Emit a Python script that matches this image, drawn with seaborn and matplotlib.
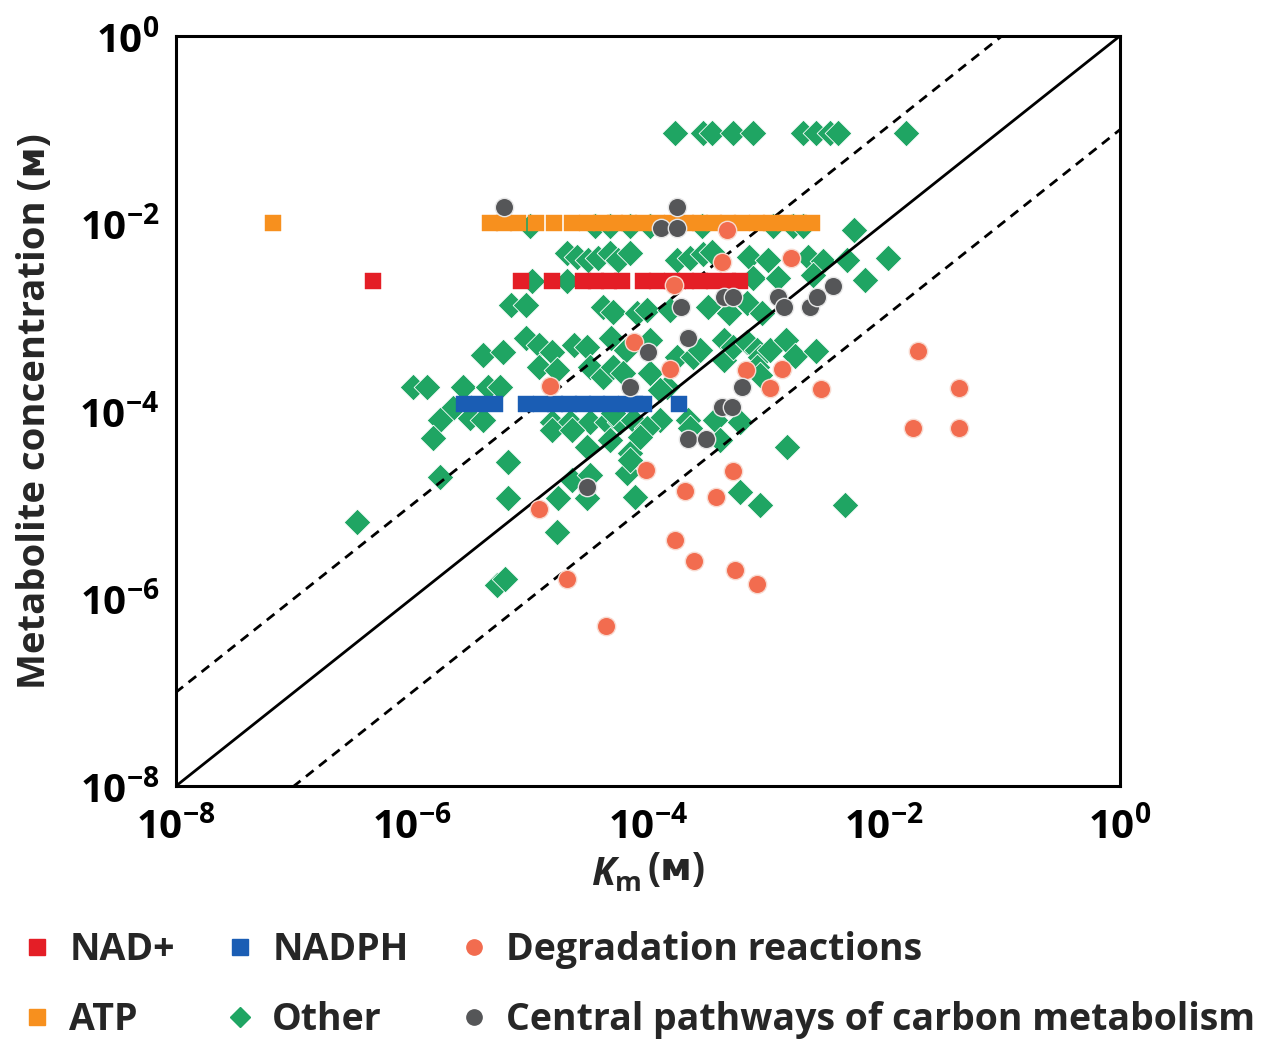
import numpy as np
import pandas as pd
import matplotlib
matplotlib.use("Agg")
import matplotlib.pyplot as plt
from matplotlib.lines import Line2D
import seaborn as sns

# All values are log10 (molar).
# "Other" enzyme/substrate pairs
other_km = [
    -3.77, -3.53, -3.46, -3.28, -3.11, -2.69, -2.58, -2.46, -2.39, -1.81,
    -5.00, -4.45, -4.32, -4.15, -3.98, -3.54, -2.94, -2.77, -2.69, -2.25,
    -4.69, -4.60, -4.51, -4.42, -4.32, -4.25, -4.15, -3.75, -3.64, -3.53, -3.46,
    -3.14, -2.98, -2.64, -2.52, -2.31, -1.97,
    -4.98, -4.69, -3.11, -2.90, -2.60, -2.16,
    -5.16, -5.03, -4.38, -4.30, -4.09, -4.01, -3.81, -3.49, -3.31, -3.16, -3.03,
    -5.40, -5.23, -5.03, -4.92, -4.81, -4.63, -4.52, -4.31, -4.19, -3.98, -3.75,
    -3.62, -3.56, -3.36, -3.36, -3.28, -3.16, -3.08, -3.05, -2.97, -2.83, -2.75, -2.58,
    -4.92, -4.77, -4.49, -4.38, -4.30, -4.21, -3.98, -3.84, -3.08, -3.05, -3.90,
    -5.99, -5.87, -5.57, -5.36, -5.25,
    -5.65, -5.51, -5.40, -5.76, -4.81, -4.66, -4.49, -4.35, -4.24, -4.81, -4.64,
    -4.13, -4.30, -3.90, -4.01, -3.66, -3.64, -3.43, -3.22,
    -5.82, -4.52, -4.32, -4.15, -4.07, -3.39, -2.82,
    -5.19, -5.76, -4.64, -4.49, -4.18, -4.15,
    -5.19, -4.76, -4.52, -4.11, -3.22, -3.05, -2.33,
    -4.77, -5.28, -5.21, -6.47,
]
other_conc = [
    -1.03, -1.03, -1.03, -1.03, -1.03, -1.03, -1.03, -1.03, -1.03, -1.03,
    -2.03, -2.03, -2.03, -2.03, -2.03, -2.03, -2.03, -2.03, -2.03, -2.07,
    -2.31, -2.36, -2.39, -2.37, -2.31, -2.39, -2.32, -2.39, -2.37, -2.33, -2.30,
    -2.36, -2.39, -2.36, -2.40, -2.39, -2.37,
    -2.61, -2.61, -2.58, -2.58, -2.55, -2.60,
    -2.87, -2.87, -2.89, -2.94, -2.95, -2.92, -2.92, -2.89, -2.95, -2.85, -2.95,
    -3.40, -3.37, -3.22, -3.30, -3.37, -3.30, -3.32, -3.22, -3.35, -3.24, -3.42,
    -3.42, -3.35, -3.24, -3.46, -3.32, -3.26, -3.35, -3.42, -3.35, -3.24, -3.41, -3.36,
    -3.53, -3.56, -3.53, -3.64, -3.53, -3.59, -3.59, -3.74, -3.53, -3.62, -3.78,
    -3.74, -3.74, -3.74, -3.74, -3.74,
    -3.97, -4.07, -4.10, -4.10, -4.12, -4.12, -4.12, -4.12, -4.12, -4.20, -4.20,
    -4.10, -4.02, -4.10, -4.18, -4.10, -4.18, -4.10, -4.12,
    -4.29, -4.38, -4.31, -4.45, -4.28, -4.31, -4.38,
    -4.54, -4.70, -4.74, -4.68, -4.66, -4.52,
    -4.93, -4.93, -4.93, -4.92, -4.86, -5.00, -5.00,
    -5.29, -5.86, -5.79, -5.18,
]

# Degradation reactions
degr_km = [-3.33, -3.37, -2.79, -3.78, -4.12, -3.81, -4.83, -3.17, -2.86, -2.97,
           -2.53, -1.71, -1.36, -1.75, -1.36, -4.02, -3.28, -3.69, -3.42, -4.92,
           -3.77, -3.61, -3.26, -3.08, -4.69, -4.36]
degr_conc = [-2.07, -2.41, -2.37, -2.66, -3.26, -3.55, -3.73, -3.56, -3.55, -3.75,
             -3.77, -3.36, -3.75, -4.18, -4.18, -4.63, -4.64, -4.85, -4.92, -5.05,
             -5.38, -5.60, -5.70, -5.85, -5.79, -6.29]

# Central pathways of carbon metabolism
central_km = [-5.22, -3.75, -3.89, -3.75, -3.72, -3.36, -3.28, -2.90, -2.85, -2.63,
              -2.57, -2.43, -3.66, -4.00, -4.15, -3.20, -3.37, -3.29, -3.66, -3.51,
              -4.52]
central_conc = [-1.82, -1.82, -2.05, -2.05, -2.89, -2.78, -2.78, -2.78, -2.89, -2.89,
                -2.78, -2.67, -3.22, -3.37, -3.74, -3.74, -3.96, -3.96, -4.30, -4.30,
                -4.81]

# Cofactors (one fixed concentration each, many enzymes)
atp_conc = -2.0
atp_km = [-7.18, -5.34, -5.22, -5.10, -4.95, -4.80, -4.64, -4.52, -4.40, -4.28,
          -4.16, -4.04, -3.92, -3.80, -3.68, -3.56, -3.44, -3.32, -3.20, -3.08,
          -2.96, -2.84, -2.72, -2.61]
nad_conc = -2.61
nad_km = [-6.33, -5.08, -4.81, -4.55, -4.44, -4.33, -4.22, -4.04, -3.92, -3.80,
          -3.68, -3.56, -3.44, -3.32, -3.22]
nadph_conc = -3.93
nadph_km = [-5.56, -5.43, -5.30, -5.03, -4.91, -4.79, -4.67, -4.55, -4.43, -4.31,
            -4.19, -4.11, -4.03, -3.74]

colors = {
    "NAD+": "#E41E26",
    "ATP": "#F7901E",
    "NADPH": "#1A5DB4",
    "Other": "#1FA563",
    "Degradation reactions": "#F26C4F",
    "Central pathways of carbon metabolism": "#555658",
}


def frame(km, conc):
    km = np.asarray(km, dtype=float)
    conc = np.broadcast_to(np.asarray(conc, dtype=float), km.shape)
    return pd.DataFrame({"km": 10.0 ** km, "conc": 10.0 ** conc})


sns.set_theme(style="white")
plt.rcParams["font.family"] = ["Open Sans", "DejaVu Sans"]
plt.rcParams["font.weight"] = "bold"
plt.rcParams["mathtext.fontset"] = "custom"
plt.rcParams["mathtext.bf"] = "Open Sans:bold"
plt.rcParams["mathtext.it"] = "Open Sans:bold:italic"
plt.rcParams["mathtext.rm"] = "Open Sans:bold"

fig = plt.figure(figsize=(12.82, 10.42), dpi=100)
ax = fig.add_axes([0.1373, 0.2457, 0.7363, 0.7198])
ax.set_xscale("log")
ax.set_yscale("log")
ax.set_xlim(1e-8, 1)
ax.set_ylim(1e-8, 1)

# reference lines: [S] = Km and one decade either side
ref = np.array([1e-9, 10.0])
ax.plot(ref, ref, color="black", lw=2.0, zorder=3)
ax.plot(ref, ref * 10, color="black", lw=2.0, ls=(0, (3.5, 2.5)), zorder=3)
ax.plot(ref, ref / 10, color="black", lw=2.0, ls=(0, (3.5, 2.5)), zorder=3)

sns.scatterplot(data=frame(other_km, other_conc), x="km", y="conc", ax=ax,
                marker="D", s=185, color=colors["Other"], edgecolor="white",
                linewidth=0.6, zorder=2, legend=False)
for name, km, conc in [("ATP", atp_km, atp_conc), ("NAD+", nad_km, nad_conc),
                       ("NADPH", nadph_km, nadph_conc)]:
    sns.scatterplot(data=frame(km, conc), x="km", y="conc", ax=ax, marker="s",
                    s=135, color=colors[name], edgecolor=colors[name],
                    linewidth=0.3, zorder=4, legend=False)
sns.scatterplot(data=frame(degr_km, degr_conc), x="km", y="conc", ax=ax,
                marker="o", s=175, color=colors["Degradation reactions"],
                edgecolor="#F8D9CF", linewidth=1.0, zorder=5, legend=False)
sns.scatterplot(data=frame(central_km, central_conc), x="km", y="conc", ax=ax,
                marker="o", s=175, color=colors["Central pathways of carbon metabolism"],
                edgecolor="#E6E6E6", linewidth=1.0, zorder=5, legend=False)

ticks = [1e-8, 1e-6, 1e-4, 1e-2, 1]
labels = [r"$\mathbf{10^{-8}}$", r"$\mathbf{10^{-6}}$", r"$\mathbf{10^{-4}}$",
          r"$\mathbf{10^{-2}}$", r"$\mathbf{10^{0}}$"]
ax.set_xticks(ticks)
ax.set_xticklabels(labels)
ax.set_yticks(ticks)
ax.set_yticklabels(labels)
ax.minorticks_off()
ax.tick_params(axis="both", which="major", direction="in", length=13, width=2.2,
               labelsize=29, colors="black")
ax.tick_params(axis="x", pad=14)
ax.tick_params(axis="y", pad=12)
for sp in ax.spines.values():
    sp.set_linewidth(2.2)
    sp.set_color("black")

# x label: K_m in math text, the small-capital M as plain text
ax.set_xlabel("")
ax.text(0.493, -0.118, r"$\mathit{K}_{\mathrm{m}}$", transform=ax.transAxes,
        ha="right", va="center", fontsize=28)
ax.text(0.499, -0.112, "(ᴍ)", transform=ax.transAxes, ha="left", va="center",
        fontsize=28, fontweight="bold")
ax.set_ylabel("Metabolite concentration (ᴍ)", fontsize=27.5, fontweight="bold",
              labelpad=18)

order = ["NAD+", "ATP", "NADPH", "Other", "Degradation reactions",
         "Central pathways of carbon metabolism"]
mk = {"NAD+": "s", "ATP": "s", "NADPH": "s", "Other": "D",
      "Degradation reactions": "o", "Central pathways of carbon metabolism": "o"}
handles = [Line2D([], [], ls="none", marker=mk[n], markersize=11 if mk[n] != "D" else 10,
                  markerfacecolor=colors[n], markeredgecolor=colors[n]) for n in order]
fig.legend(handles, order, ncol=3, loc="lower left", bbox_to_anchor=(-0.006, -0.022),
           frameon=False, fontsize=27, handletextpad=0.35, columnspacing=1.25,
           labelspacing=0.85, handlelength=1.0, borderaxespad=0.3)

fig.savefig("out.png", dpi=100)
